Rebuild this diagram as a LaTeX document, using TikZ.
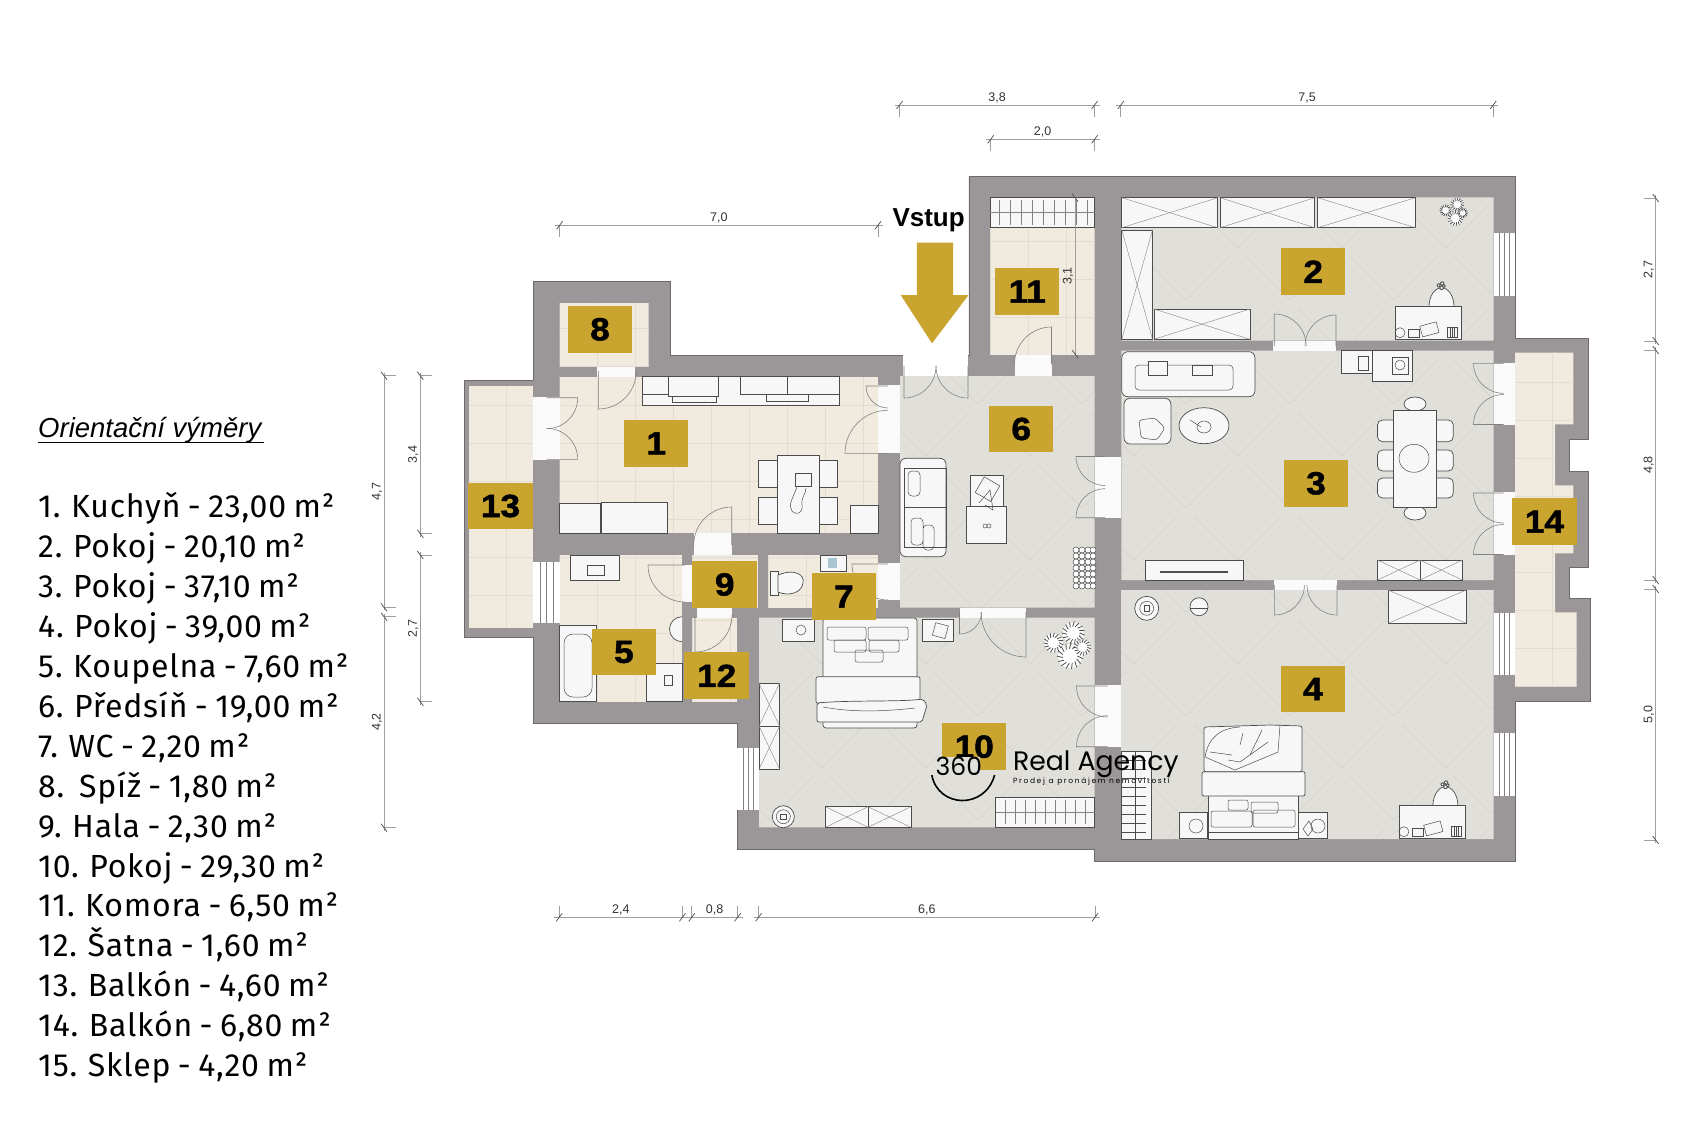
\documentclass[tikz,border=0pt]{standalone}
\usepackage{fontspec}
\usepackage{tikz}
\usetikzlibrary{positioning}
\newfontfamily\listfont[Numbers=Proportional,LetterSpace=2.5,WordSpace=0.8]{Fira Sans}
\newfontfamily\headfont{Liberation Sans}
\newfontfamily\numfont[FakeBold=1.6,FakeStretch=1.1]{Liberation Sans Bold}
\newfontfamily\logofont{Poppins}
\newfontfamily\logosmall[LetterSpace=22]{Poppins}
\definecolor{wallgrey}{HTML}{9B9697}
\definecolor{walledge}{HTML}{6E6A6B}
\definecolor{gold}{HTML}{C9A42F}
\definecolor{beigefloor}{HTML}{F0EADF}
\definecolor{greyfloor}{HTML}{E0DFD9}
\definecolor{tilegrey}{HTML}{E1DDD1}
\definecolor{chevgrey}{HTML}{D4D2CC}
\definecolor{ink}{HTML}{4C4C4C}
\definecolor{dimgrey}{HTML}{9E9E9E}
\definecolor{gapwhite}{HTML}{FAFAFA}
\tikzset{
  wall/.style = {fill=wallgrey, draw=walledge, line width=0.8},
  doorline/.style = {draw=ink!70, line width=0.6},
  furn/.style = {fill=white!97!black, draw=ink, line width=0.7},
  thinink/.style = {draw=ink, line width=0.5},
  xline/.style = {draw=ink!70, line width=0.4},
  dimline/.style = {draw=dimgrey, line width=1},
  dimext/.style = {draw=dimgrey, line width=0.8},
  dimtick/.style = {draw=ink, line width=0.7},
  dimtext/.style = {font=\headfont\fontsize{12.5}{13}\selectfont, text=black!80, inner sep=0},
  roomlabel/.style = {fill=gold, minimum width=64.5, minimum height=46.7, inner sep=0, font=\numfont\fontsize{32}{32}\selectfont}
}
% floor with square tiles
\newcommand{\tiles}[6]{
  \begin{scope}
    \clip (#1,#2) rectangle (#3,#4);
    \fill[beigefloor] (#1,#2) rectangle (#3,#4);
    \foreach \k in {0,...,10} {
      \draw[tilegrey, line width=0.7] (#5+38*\k,#2) -- (#5+38*\k,#4);
      \draw[tilegrey, line width=0.7] (#1,#6+38*\k) -- (#3,#6+38*\k);
    }
  \end{scope}
}
\newcommand{\swing}[5]{\draw[doorline] (#1,#2) -- ++(#4:#3) arc [start angle=#4, end angle=#5, radius=#3];}
\newcommand{\pane}[4]{
  \fill[white] (#1,#2) rectangle (#3,#4);
  \foreach \f in {0.25,0.5,0.75} {\draw[xline] ({#1+\f*(#3-#1)},#2) -- ({#1+\f*(#3-#1)},#4);}
}
\newcommand{\xbox}[4]{
  \draw[furn] (#1,#2) rectangle (#3,#4);
  \draw[xline] (#1,#2) -- (#3,#4);
  \draw[xline] (#1,#4) -- (#3,#2);
}
\newcommand{\rack}[5]{
  \draw[furn] (#1,#2) rectangle (#3,#4);
  \foreach \b in {#5} {\draw[xline] (\b,#2+3) -- (\b,#4-3);}
  \draw[xline] (#1,{(#2+#4)/2}) -- (#3,{(#2+#4)/2});
}
% leafy plant seen from above
\newcommand{\plant}[3]{
  \foreach \lx/\ly/\lr in {-0.6/-0.1/0.42, 0.3/-0.55/0.48, 0.15/0.5/0.55, 0.72/0.1/0.36} {
    \fill[white] ({#1+\lx*#3},{#2+\ly*#3}) circle [radius=\lr*#3];
    \foreach \a in {0,24,...,336} {
      \draw[draw=ink, line width=0.8] ({#1+\lx*#3},{#2+\ly*#3}) ++(\a:0.6*\lr*#3) -- ++(\a+25:0.5*\lr*#3);
    }
  }
}
\newcommand{\desk}[2]{
  \begin{scope}[shift={(#1,#2)}]
    \draw[furn] (34,0) arc [start angle=180, end angle=360, x radius=12.5, y radius=19] -- cycle;
    \plant{46}{-21}{4}
    \draw[furn] (0,0) rectangle (66.5,33);
    \draw[thinink] (5,26) circle [radius=5];
    \draw[thinink] (13,23) rectangle (24,31);
    \draw[thinink, rotate around={-15:(35,23)}] (26,17) rectangle (43,28);
    \draw[thinink] (52,21) rectangle (62,31);
    \foreach \x in {55,57,59} {\draw[thinink] (\x,21) -- (\x,31);}
  \end{scope}
}
\newcommand{\dimh}[6]{
  \draw[dimline] (#1-5,#3) -- (#2+5,#3);
  \foreach \p in {#1,#2} {
    \draw[dimext] (\p,#3) -- (\p,#3+#4);
    \draw[dimtick] (\p-3,#3+4) -- (\p+3,#3-4);
  }
  \node[dimtext] (#5) at ({(#1+#2)/2},#3-7) {#6};
}
\newcommand{\dimv}[6]{
  \draw[dimline] (#3,#1-3) -- (#3,#2+3);
  \foreach \p in {#1,#2} {
    \draw[dimext] (#3,\p) -- (#3+#4,\p);
    \draw[dimtick] (#3-3,\p-4) -- (#3+3,\p+4);
  }
  \node[dimtext, rotate=90] (#5) at (#3-7,{(#1+#2)/2}) {#6};
}
\begin{document}
\begin{tikzpicture}[x=1pt, y=1pt, yscale=-1]
  \useasboundingbox (0,0) rectangle (1688,1125);
  \fill[white] (0,0) rectangle (1688,1125);
  % walls
  \draw[wall] (533.3,281.5) -- (670.4,281.5) -- (670.4,355) -- (968.9,355) -- (968.9,176) -- (1515,176)
    -- (1515,338.3) -- (1588,338.3) -- (1588,439) -- (1569.3,439) -- (1569.3,471) -- (1588,471)
    -- (1588,567.3) -- (1569.3,567.3) -- (1569.3,598) -- (1590.7,598) -- (1590.7,701.7) -- (1515,701.7)
    -- (1515,861.7) -- (1094.5,861.7) -- (1094.5,849) -- (737.3,849) -- (737.3,723.3) -- (533.3,723.3)
    -- (533.3,637.3) -- (464,637.3) -- (464,380.7) -- (533.3,380.7) -- cycle;
  \fill[white] (902.5,350) rectangle (968.4,376);
  % grey rooms
  \begin{scope}
    \clip (900,376) rectangle (1094.7,607.7) (759,617.7) rectangle (1094.5,827.3)
      (1121.3,197.3) rectangle (1493.7,340.7) (1121.3,350.7) rectangle (1493.7,580)
      (1121,590) rectangle (1493.5,839);
    \fill[greyfloor] (740,190) rectangle (1500,845);
    \foreach \r in {0,2,...,14} {
      \foreach \c in {0,...,8} {
        \draw[chevgrey, line width=0.6] (726+104*\c,152+52*\r) -- (770+104*\c,196+52*\r) -- (814+104*\c,152+52*\r);
        \draw[chevgrey, line width=0.6] (778+104*\c,204+52*\r) -- (822+104*\c,248+52*\r) -- (866+104*\c,204+52*\r);
      }
    }
  \end{scope}
  % tiled rooms
  \tiles{559.7}{376.5}{878}{533.3}{559.7}{367.7}
  \tiles{559.7}{303.3}{648.6}{366.7}{559.7}{290.3}
  \tiles{469}{385.7}{533.3}{628.3}{468.7}{367}
  \tiles{559.7}{555}{682}{701.7}{559.7}{557}
  \tiles{692}{555}{758}{608}{692}{557}
  \tiles{768}{555}{878}{608}{768}{557}
  \tiles{692}{618}{737.3}{701.7}{692}{620}
  \tiles{990.4}{197.3}{1094.7}{354.7}{990.4}{203}
  \begin{scope}
    \clip (1515,352.7) -- (1573.3,352.7) -- (1573.3,424.3) -- (1555,424.3) -- (1555,485.3) -- (1573.3,485.3)
      -- (1573.3,553.3) -- (1555,553.3) -- (1555,612.3) -- (1576.7,612.3) -- (1576.7,686.7) -- (1515,686.7) -- cycle;
    \tiles{1515}{352}{1580}{687}{1514.7}{344.3}
  \end{scope}
  % openings
  \foreach \xa/\ya/\xb/\yb in {533.3/396.7/559.7/460, 597/366.7/635.4/376.7, 878/385/900/453.3, 694/533.3/732/555,
      682/565/692/601.7, 696.7/608/732.3/618, 878/563/900/600, 1014.8/354.7/1052/376, 1094.7/456.7/1121.3/518.3,
      1272.8/340.7/1336.2/350.7, 1493.7/362.7/1515/425, 1493.7/492.3/1515/555, 959.5/607.7/1026/617.7,
      1094.5/685/1121/746.7, 1274/580/1337/590} {
    \fill[gapwhite] (\xa,\ya) rectangle (\xb,\yb);
  }
  \pane{533.3}{561.7}{559.7}{623.3}
  \pane{1493.7}{233}{1515}{296}
  \pane{1493.5}{613}{1515}{675}
  \pane{1493.5}{733}{1515}{796}
  \pane{737.3}{747.7}{759}{810}
  % doors
  \foreach \hx/\hy/\rad/\aa/\ab in {546.7/397.7/31/0/90, 546.7/459.3/31/0/-90, 598.3/371/38/90/0, 888/453.3/43/180/270,
      888/386/22/180/90, 731.7/545/38/270/180, 685/565/37/180/90, 695/615/37/90/0, 888/564/36/180/90,
      968/366/32/90/180, 904/366/32/90/0, 1051.5/364/37/270/180, 1105/456.5/29/180/90, 1105/517.7/29/180/270,
      1274.2/346/32/270/360, 1336/346/31/270/180, 1503.5/363.3/30/180/90, 1503.5/424.5/30/180/270,
      1503.5/493/30/180/90, 1503.5/554.5/30/180/270, 1026/612/45/90/180, 959.5/612/22/90/0,
      1107.5/686/31/180/90, 1107.5/746.7/31/180/270, 1274.4/585/30/90/0, 1337/585/30/90/180} {
    \swing{\hx}{\hy}{\rad}{\aa}{\ab}
  }
  % kitchen
  \draw[furn] (642.7,376.7) rectangle (839,405.7);
  \draw[thinink] (668.3,376.7) rectangle (718.3,396);
  \draw[thinink] (672,396) rectangle (716,402);
  \draw[thinink] (740.7,376.7) rectangle (787.3,394) (787.3,376.7) rectangle (839,394);
  \draw[thinink] (766.7,394) rectangle (808,401.7);
  \draw[thinink] (642.7,394) -- (668.3,394);
  \draw[furn] (559.7,503.3) rectangle (600,533.3);
  \draw[furn] (601,502.3) rectangle (667.7,533.3);
  \draw[furn] (850.7,505) rectangle (878,533.3);
  \foreach \cy in {460.7,497.3} {
    \draw[furn] (758.3,\cy) rectangle (777.7,\cy+26.7);
    \draw[furn] (819,\cy) rectangle (837.3,\cy+26.7);
  }
  \draw[furn] (777.7,455.7) rectangle (819,533.3);
  \draw[thinink] (795,473) rectangle (811,486);
  \draw[thinink] (797,487) .. controls (792,500) and (788,505) .. (792,511) .. controls (797,516) and (803,513) .. (802,505) .. controls (801,497) and (806,494) .. (806,488);
  % bath and wc
  \draw[furn] (570.7,555) rectangle (619,580);
  \draw[thinink] (587,565) rectangle (604,575);
  \draw[furn] (559.7,625) rectangle (596,701.7);
  \draw[thinink, rounded corners=9] (564,634) rectangle (592,697);
  \draw[furn] (646,663.3) rectangle (682.3,701.7);
  \draw[thinink] (664,675) rectangle (672,685);
  \draw[furn] (682,616.7) arc [start angle=-90, end angle=-270, radius=12.5];
  \draw[furn] (770,571.7) rectangle (778,595);
  \draw[furn] (778,575) .. controls (795,568) and (805,575) .. (803,583) .. controls (802,592) and (790,597) .. (778,592) -- cycle;
  \draw[furn] (820.7,555) rectangle (846,571.7);
  \fill[cyan!35!gray!60] (828.3,558.3) rectangle (837.3,568.3);
  % room 10
  \draw[furn] (782.8,619.3) rectangle (814,641.7);
  \draw[thinink] (801,630) circle [radius=5];
  \draw[furn] (922.4,619.3) rectangle (953.8,641.7);
  \draw[thinink, rotate around={15:(940,630)}] (934,624) rectangle (947,637);
  \draw[furn, rounded corners=3] (823,618) rectangle (917,728);
  \draw[thinink, rounded corners=2] (827,627) rectangle (866,640) (868,627) rectangle (908,640);
  \draw[thinink, rounded corners=2] (834,640) rectangle (866,652) (869,640) rectangle (899,652);
  \draw[thinink, rounded corners=2] (855,650) rectangle (883,662);
  \draw[furn, rounded corners=2] (816,676.7) rectangle (920,703.3);
  \draw[furn, rounded corners=2] (817,703) .. controls (850,700) and (900,702) .. (923,699) -- (927,705) -- (922,722) -- (817,722) -- cycle;
  \draw[thinink] (823,707) .. controls (850,712) and (880,712) .. (915,708);
  \xbox{759}{683.3}{779.6}{726}
  \xbox{759}{726}{779.6}{769.3}
  \plant{1066.7}{645}{22}
  \draw[furn] (783.3,816.7) circle [radius=11];
  \draw[thinink] (783.3,816.7) circle [radius=7];
  \draw[thinink] (780.5,814) rectangle (786.1,819.4);
  \xbox{825.6}{806.7}{868}{827.3}
  \xbox{868}{806.7}{910.9}{827.3}
  \rack{995.6}{797.3}{1094.5}{827.3}{1005,1015,1025,1035,1045,1055,1065,1075,1085}
  % room 4
  \draw[furn] (1146.7,608.3) circle [radius=12];
  \draw[thinink] (1146.7,608.3) circle [radius=7];
  \draw[thinink] (1144,605.5) rectangle (1149.5,611);
  \draw[furn] (1199,606.7) circle [radius=9];
  \draw[thinink] (1190,608) -- (1208,608);
  \xbox{1388}{590}{1466.3}{623.3}
  \draw[furn] (1121.7,751.7) rectangle (1151.5,839);
  \foreach \ry in {760,769,778,787,796,805,814,823,832} {\draw[thinink] (1121.7,\ry) -- (1146,\ry);}
  \draw[thinink] (1135,751.7) -- (1135,839);
  \draw[furn] (1179,812) rectangle (1207,838.3);
  \draw[thinink] (1196,826) circle [radius=7];
  \draw[furn] (1298,812) rectangle (1327,838.3);
  \draw[thinink] (1318,826) circle [radius=7];
  \draw[thinink] (1303,829) -- (1309,821) -- (1313,829) -- (1308,836) -- cycle;
  \draw[furn] (1208,790) rectangle (1298,839);
  \draw[thinink, rounded corners=2] (1228,800) rectangle (1248,810) (1251,802) rectangle (1278,813);
  \draw[thinink, rounded corners=2] (1211,811) rectangle (1252,827) (1253,810) rectangle (1295,827);
  \draw[thinink] (1208,832) -- (1298,832);
  \draw[furn, rounded corners=2] (1202,771.7) rectangle (1305,796);
  \draw[furn, rounded corners=2] (1204,727) -- (1270,725) -- (1302,726) -- (1302,771.7) -- (1204,771.7) -- cycle;
  \draw[thinink] (1205,757) -- (1235,770) -- (1278,752) -- (1280,725);
  \draw[thinink] (1205,757) .. controls (1208,738) and (1220,728) .. (1240,727);
  \draw[thinink] (1240,745) -- (1243,733) (1250,755) -- (1262,730) (1240,762) -- (1268,742) (1210,752) -- (1232,755) (1228,760) -- (1240,762);
  \desk{1398.9}{805.7}
  % room 2
  \xbox{1121.8}{197.7}{1217.7}{227.7}
  \xbox{1220}{197.7}{1314.6}{227.7}
  \xbox{1317.8}{197.7}{1415.2}{227.7}
  \xbox{1121.8}{230}{1152.5}{339.3}
  \xbox{1153.9}{309}{1249.9}{339.3}
  \plant{1453.3}{211.7}{13}
  \desk{1395}{306.7}
  % room 3
  \draw[furn, rounded corners=6] (1121.8,351.7) rectangle (1254.9,396.7);
  \draw[thinink, rounded corners=4] (1135,365) rectangle (1233,390);
  \draw[furn] (1148,361) rectangle (1167,375);
  \draw[furn] (1192,365) rectangle (1212,375);
  \draw[furn, rounded corners=6] (1124,398.3) rectangle (1170.9,444);
  \draw[thinink, rounded corners=3] (1139,420) -- (1155,418) -- (1165,428) -- (1157,440) -- (1141,438) -- cycle;
  \draw[furn] (1204,425.7) ellipse [x radius=25, y radius=18];
  \draw[thinink] (1204,427) ellipse [x radius=7, y radius=6];
  \draw[thinink] (1190,420) -- (1201,427);
  \draw[furn] (1341.7,350.7) rectangle (1372,373.3);
  \draw[thinink] (1358,356) rectangle (1368,370);
  \draw[furn] (1372,350.7) rectangle (1412,381.7);
  \draw[thinink] (1392,357) rectangle (1408,374);
  \draw[thinink] (1400,365) circle [radius=5];
  \foreach \cy/\cb in {420/441.7, 450/471, 478/498} {
    \draw[furn, rounded corners=5] (1377.5,\cy) rectangle (1400,\cb);
    \draw[furn, rounded corners=5] (1430,\cy) rectangle (1453.3,\cb);
  }
  \draw[furn] (1415,404) ellipse [x radius=11, y radius=7];
  \draw[furn] (1415,513) ellipse [x radius=11, y radius=7];
  \draw[furn] (1393.6,410) rectangle (1436.3,507.3);
  \draw[thinink] (1414,458.3) ellipse [x radius=15, y radius=14];
  \draw[furn] (1145.6,560.7) rectangle (1243.4,580);
  \draw[draw=ink, line width=1.4] (1160,572) -- (1228,572);
  \xbox{1377.5}{560}{1420}{580}
  \xbox{1420}{560}{1462.4}{580}
  % room 6
  \draw[furn, rounded corners=6] (900,458.3) rectangle (946,556.7);
  \draw[thinink] (904,468) rectangle (946,507) (904,507) rectangle (946,547);
  \draw[thinink, rounded corners=4] (908,471) rectangle (920,496) (911,518) rectangle (923,545) (923,525) rectangle (934,550);
  \draw[furn] (970.2,475) rectangle (1003.3,508.3);
  \draw[furn] (966.6,506.7) rectangle (1006.5,543.3);
  \draw[thinink, rotate around={30:(987,490)}] (978,480) rectangle (996,498);
  \draw[thinink] (979,503) -- (990,490) -- (993,510) -- (985,505);
  \draw[thinink] (985,526) circle [radius=2] (989,526) circle [radius=2];
  \foreach \py in {550,556,...,586} {
    \foreach \px in {1076,1082,1088,1093} {\draw[thinink, fill=white] (\px,\py) circle [radius=3];}
  }
  % room 11
  \rack{990.4}{197.3}{1094.7}{227.7}{999,1010,1021,1032,1043,1054,1065,1076,1087}
  % dimensions
  \dimh{899.6}{1094.6}{105}{11.7}{dimA}{3,8}
  \dimh{1120.8}{1493.2}{105}{11.7}{dimB}{7,5}
  \dimh{990.7}{1094.6}{139.3}{11.4}{dimC}{2,0}
  \dimh{559.6}{878}{225.3}{11.4}{dimD}{7,0}
  \dimh{559.2}{682.4}{917.3}{-11.6}{dimE}{2,4}
  \dimh{691.7}{737.6}{917.3}{-11.6}{dimF}{0,8}
  \dimh{758.6}{1095}{917.3}{-11.6}{dimG}{6,6}
  \dimv{375.7}{607.3}{384}{12}{dimH}{4,7}
  \dimv{616.7}{827.7}{384}{12}{dimI}{4,2}
  \dimv{375.7}{533.7}{420.3}{12}{dimJ}{3,4}
  \dimv{555}{701.7}{420.3}{12}{dimK}{2,7}
  \dimv{198}{341}{1655.7}{-12}{dimL}{2,7}
  \dimv{350}{580}{1655.7}{-12}{dimM}{4,8}
  \dimv{589}{840}{1655.7}{-12}{dimN}{5,0}
  \dimv{197.5}{354}{1075}{0}{dimO}{3,1}
  % entrance
  \node[font=\headfont\bfseries\fontsize{26}{26}\selectfont, inner sep=0, anchor=base] (vstup) at (928.6,226) {Vstup};
  \fill[gold] (916.8,242.7) -- (953.2,242.7) -- (953.2,295) -- (968.6,295) -- (932,343.3) -- (900.7,295) -- (916.8,295) -- cycle;
  % room numbers
  \foreach \idx/\cx/\cy in {1/656.2/443.3, 2/1313.2/271.7, 3/1316/483.3, 4/1312.9/689, 5/623.9/652, 6/1021.2/429,
      7/843.9/596.7, 8/600/329.3, 9/724.7/584.5, 10/974.2/746.7, 11/1027.2/291.7, 12/716.7/675.8, 13/500.5/506, 14/1544.4/521.7} {
    \node[roomlabel] (room\idx) at (\cx,\cy) {\idx};
  }
  % logo
  \fill[greyfloor] (941,757) rectangle (980,771);
  \node[font=\logofont\fontsize{25}{25}\selectfont, inner sep=0, anchor=base west] (logoa) at (935.5,775) {360};
  \draw[black, line width=1.6] (931.8,775) .. controls (938,808) and (985,810) .. (994.6,775);
  \node[font=\logofont\fontsize{26.7}{27}\selectfont, inner sep=0, anchor=base west] (logob) at (1012.9,770.7) {Real Agency};
  \node[font=\logosmall\fontsize{7.5}{8}\selectfont, inner sep=0, anchor=base west] (logoc) at (1012.9,783) {Prodej a pronájem nemovitostí};
  % area list
  \node[font=\headfont\itshape\fontsize{27.5}{28}\selectfont, inner sep=0, anchor=base west] (listhead) at (38,437.3) {Orientační výměry};
  \draw[black, line width=1.3] (listhead.base west) ++(0,5) -- ++(226,0);
  \foreach \idx/\txt in {1/{1. Kuchyň - 23,00 m²}, 2/{2. Pokoj - 20,10 m²}, 3/{3. Pokoj - 37,10 m²}, 4/{4. Pokoj - 39,00 m²},
      5/{5. Koupelna - 7,60 m²}, 6/{6. Předsíň - 19,00 m²}, 7/{7. WC - 2,20 m²}, 8/{8.\ \ Spíž - 1,80 m²},
      9/{9. Hala - 2,30 m²}, 10/{10. Pokoj - 29,30 m²}, 11/{11. Komora - 6,50 m²}, 12/{12. Šatna - 1,60 m²},
      13/{13. Balkón - 4,60 m²}, 14/{14. Balkón - 6,80 m²}, 15/{15. Sklep - 4,20 m²}} {
    \node[font=\listfont\fontsize{32}{32}\selectfont, inner sep=0, anchor=base west] (area\idx) at (38,477.3+39.97*\idx) {\txt};
  }
\end{tikzpicture}
\end{document}
